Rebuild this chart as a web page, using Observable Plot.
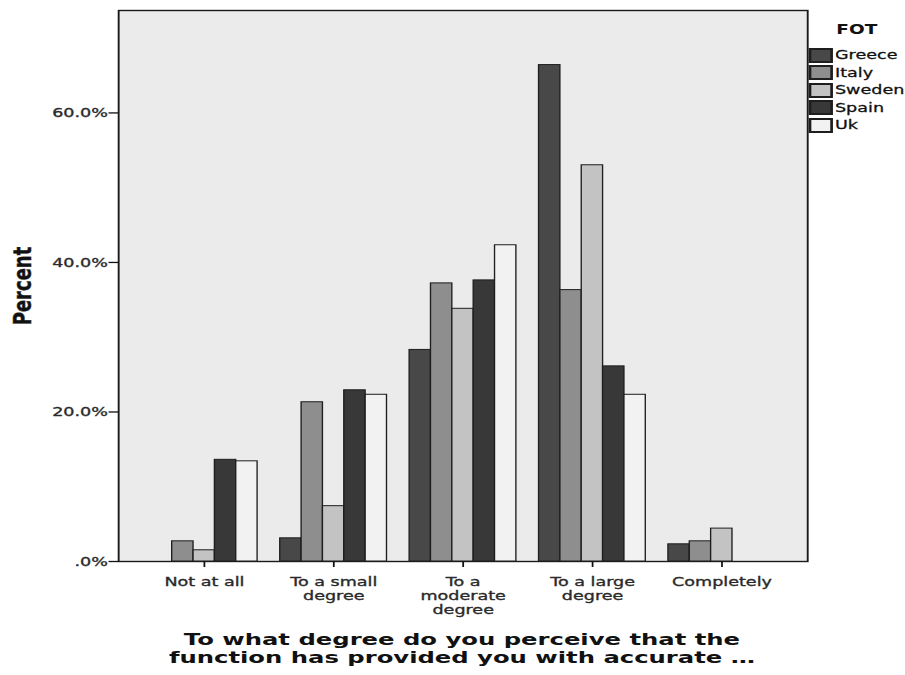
<!DOCTYPE html>
<html>
<head>
<meta charset="utf-8">
<script src="https://cdn.jsdelivr.net/npm/d3@7"></script>
<script src="https://cdn.jsdelivr.net/npm/@observablehq/plot@0.6"></script>
<style>
  html, body { margin: 0; padding: 0; background: #ffffff; }
  #wrap { position: relative; width: 670px; height: 675px; transform: scaleX(1.35); transform-origin: 0 0; }
  #back, #front { position: absolute; left: 0; top: 0; }
  #back svg text, #front svg text { stroke: #2a2a2a; stroke-width: 0.35px; }
  #legtitle { position: absolute; left: 619.5px; top: 21px; font: bold 13.7px "DejaVu Sans"; color: #111; }
  #legend { position: absolute; left: 600px; top: 47px; }
  #legend .leg-swatch { -webkit-text-stroke: 0.3px #111; }
  #legend .leg-swatch svg { margin-right: 2.5px !important; }
  #legend .leg-swatch rect { stroke: #1e1e1e; stroke-width: 2; }
  #xtitle { position: absolute; left: 87.4px; width: 510.4px; top: 631px; text-align: center;
            font: bold 15.5px/18px "DejaVu Sans"; color: #111;
            transform: scaleX(1.16); transform-origin: 50% 0; }
</style>
</head>
<body>
<div id="wrap">
  <div id="back"></div>
  <div id="front"></div>
  <div id="legtitle"></div>
  <div id="legend"></div>
  <div id="xtitle"></div>
</div>
<script>
const categories = ["Not at all", "To a small degree", "To a moderate degree", "To a large degree", "Completely"];
const categoryLabels = ["Not at all", "To a small\ndegree", "To a\nmoderate\ndegree", "To a large\ndegree", "Completely"];
const countries = ["Greece", "Italy", "Sweden", "Spain", "Uk"];
const greece = [null, 3.1, 28.3, 66.4, 2.3];
const italy  = [2.7, 21.3, 37.2, 36.3, 2.7];
const sweden = [1.5, 7.4, 33.8, 53.0, 4.4];
const spain  = [13.6, 22.9, 37.6, 26.1, null];
const uk     = [13.4, 22.3, 42.3, 22.3, null];
const countryColors = ["#484848", "#8e8e8e", "#c3c3c3", "#383838", "#f2f2f2"];
const yTicks = [0, 20, 40, 60];
const yTickLabels = [".0%", "20.0%", "40.0%", "60.0%"];
const yTitle = "Percent";
const xTitle = "To what degree do you perceive that the\nfunction has provided you with accurate \u2026";
const legendTitle = "FOT";

const series = [greece, italy, sweden, spain, uk];
const data = [];
countries.forEach((c, j) => {
  categories.forEach((cat, i) => {
    const v = series[j][i];
    if (v != null) data.push({category: cat, country: c, value: v});
  });
});

const dims = {width: 670, height: 620, marginTop: 10, marginBottom: 59, marginLeft: 87.4, marginRight: 72.2};
const baseStyle = {fontFamily: "DejaVu Sans", fontSize: "13px", color: "#2a2a2a", background: "transparent"};
const yScale = {domain: [0, 73.7], axis: null};

// Back layer: panel background and border, y axis, y title
const back = Plot.plot({
  ...dims,
  style: baseStyle,
  y: yScale,
  marks: [
    Plot.frame({fill: "#ebebeb", stroke: "#1a1a1a", strokeWidth: 1.4}),
    Plot.axisY({ticks: yTicks, tickFormat: d => yTickLabels[yTicks.indexOf(d)], tickSize: 7, tickPadding: 1, label: null, stroke: "#111", strokeWidth: 1.3, fill: "#2a2a2a"}),
    Plot.text([yTitle], {text: d => d, frameAnchor: "left", textAnchor: "middle", rotate: -90, dx: -71, fontSize: 18, fontWeight: "bold", fill: "#111"})
  ]
});
document.getElementById("back").appendChild(back);

// Front layer: grouped bars (faceted by category) and category axis
const front = Plot.plot({
  ...dims,
  style: baseStyle,
  fx: {domain: categories, paddingInner: 0.175, paddingOuter: 0.25, round: false, label: null},
  x: {domain: countries, padding: 0, round: false, axis: null},
  y: yScale,
  color: {domain: countries, range: countryColors},
  marks: [
    Plot.barY(data, {fx: "category", x: "country", y: "value", fill: "country", stroke: "#1e1e1e", strokeWidth: 1}),
    Plot.axisFx({anchor: "bottom", tickSize: 6, tickPadding: 8, tickFormat: d => categoryLabels[categories.indexOf(d)], label: null, lineHeight: 1.09, fill: "#2a2a2a", stroke: "#111", strokeWidth: 1.3})
  ]
});
document.getElementById("front").appendChild(front);

const legend = Plot.legend({
  color: {domain: countries, range: countryColors},
  legend: "swatches",
  columns: 1,
  swatchWidth: 16,
  swatchHeight: 13,
  className: "leg",
  style: {fontFamily: "DejaVu Sans", fontSize: "13px", lineHeight: "16.5px", color: "#111"}
});
document.getElementById("legend").appendChild(legend);
document.getElementById("legtitle").textContent = legendTitle;
document.getElementById("xtitle").innerText = xTitle;
</script>
</body>
</html>
